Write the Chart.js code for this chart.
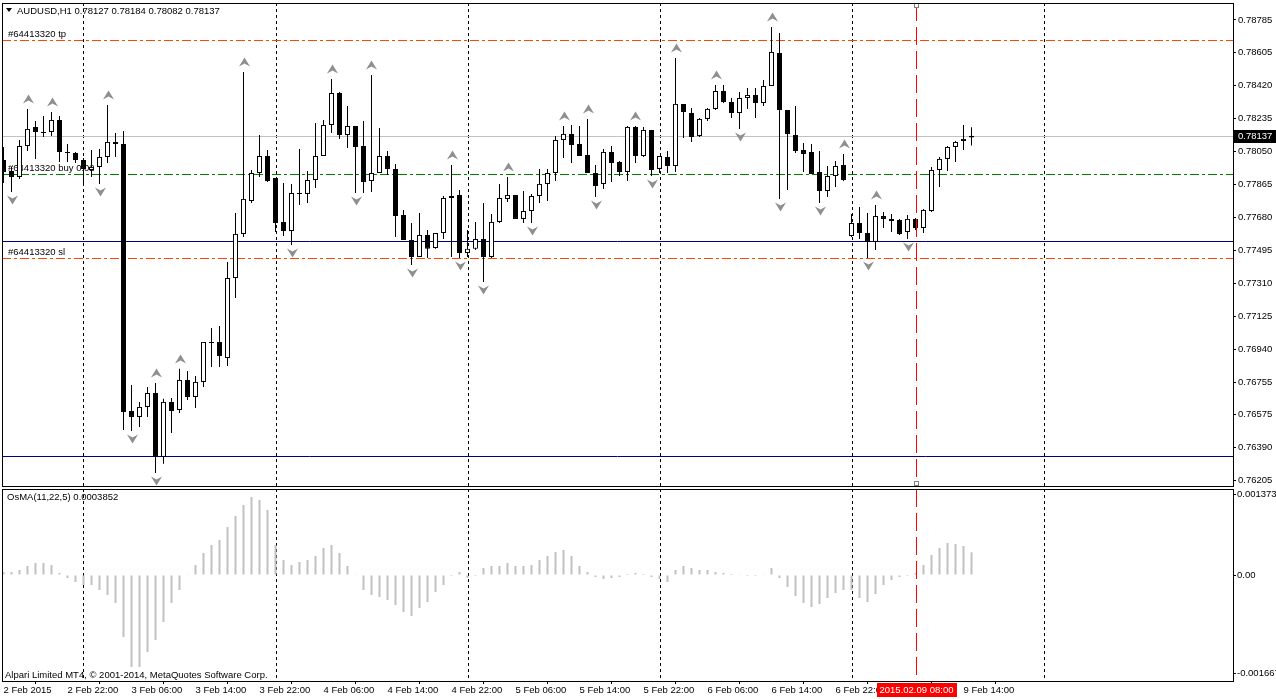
<!DOCTYPE html>
<html>
<head>
<meta charset="utf-8">
<title>AUDUSD,H1</title>
<script src="https://cdn.jsdelivr.net/npm/chart.js@4.4.0/dist/chart.umd.min.js"></script>
<style>
    body { margin: 0; background: #fff; width: 1276px; height: 699px; overflow: hidden; position: relative; }
    canvas { position: absolute; left: 0; }
    #main-chart { top: 0; }
    #osma-chart { top: 487px; }
</style>
</head>
<body>
<canvas id="main-chart" width="1276" height="487" style="width:1276px;height:487px"></canvas>
<canvas id="osma-chart" width="1276" height="212" style="width:1276px;height:212px"></canvas>
<script>
// AUDUSD H1 candles, 2 Feb 14:00 .. 9 Feb 15:00
const opens = [0.78001,0.77939,0.77906,0.78079,0.78186,0.78158,0.78158,0.78225,0.78046,0.78040,
    0.78001,0.77945,0.77962,0.78018,0.78102,0.78091,0.76595,0.76562,0.76618,0.76696,
    0.76338,0.76646,0.76601,0.76769,0.76674,0.76758,0.76982,0.76982,0.76892,0.77340,
    0.77587,0.77771,0.77928,0.78023,0.77900,0.77654,0.77603,0.77816,0.77811,0.77889,
    0.78023,0.78197,0.78376,0.78141,0.78191,0.78079,0.77883,0.77928,0.78023,0.77951,
    0.77693,0.77553,0.77458,0.77581,0.77508,0.77592,0.77788,0.77805,0.77480,0.77503,
    0.77559,0.77458,0.77654,0.77783,0.77805,0.77671,0.77715,0.77799,0.77867,0.77928,
    0.78113,0.78147,0.78091,0.78029,0.77928,0.77867,0.78046,0.77990,0.77934,0.78186,
    0.78023,0.78169,0.77951,0.78018,0.77967,0.78315,0.78264,0.78135,0.78231,0.78287,
    0.78387,0.78326,0.78264,0.78348,0.78365,0.78320,0.78415,0.78600,0.78281,0.78141,
    0.78057,0.78046,0.77934,0.77827,0.77911,0.77973,0.77575,0.77648,0.77592,0.77542,
    0.77687,0.77671,0.77665,0.77598,0.77671,0.77620,0.77715,0.77945,0.78007,0.78074,
    0.78107,0.78127];
const highs = [0.78074,0.77962,0.78113,0.78287,0.78219,0.78247,0.78270,0.78247,0.78091,0.78046,
    0.78012,0.78057,0.78063,0.78309,0.78152,0.78163,0.76741,0.76646,0.76730,0.76752,
    0.76663,0.76668,0.76831,0.76819,0.76791,0.76982,0.77060,0.77071,0.77430,0.77704,
    0.78494,0.77945,0.78141,0.78057,0.77900,0.77872,0.77867,0.78063,0.77939,0.78208,
    0.78225,0.78455,0.78382,0.78303,0.78191,0.78219,0.78477,0.78180,0.78051,0.77979,
    0.77721,0.77648,0.77704,0.77609,0.77592,0.77799,0.77973,0.77833,0.77609,0.77654,
    0.77760,0.77699,0.77867,0.77906,0.77805,0.77827,0.77811,0.77951,0.77951,0.78135,
    0.78191,0.78197,0.78191,0.78231,0.77973,0.78063,0.78079,0.77995,0.78191,0.78191,
    0.78186,0.78169,0.78023,0.78051,0.78572,0.78315,0.78292,0.78236,0.78292,0.78421,
    0.78421,0.78348,0.78382,0.78404,0.78404,0.78449,0.78746,0.78712,0.78281,0.78303,
    0.78096,0.78091,0.78051,0.77967,0.77995,0.78035,0.77699,0.77738,0.77704,0.77749,
    0.77710,0.77699,0.77671,0.77693,0.77676,0.77727,0.77962,0.78018,0.78079,0.78107,
    0.78197,0.78184];
const lows = [0.77872,0.77822,0.77895,0.78051,0.78007,0.78130,0.78135,0.77990,0.77990,0.77984,
    0.77872,0.77906,0.77867,0.77984,0.78018,0.76489,0.76483,0.76506,0.76562,0.76248,
    0.76299,0.76472,0.76584,0.76657,0.76612,0.76730,0.76842,0.76842,0.76847,0.77228,
    0.77570,0.77760,0.77906,0.77878,0.77598,0.77575,0.77525,0.77749,0.77760,0.77844,
    0.78023,0.78152,0.78119,0.78068,0.77816,0.77816,0.77822,0.77928,0.77917,0.77570,
    0.77553,0.77413,0.77458,0.77452,0.77503,0.77559,0.77458,0.77452,0.77458,0.77497,
    0.77318,0.77452,0.77648,0.77766,0.77671,0.77648,0.77648,0.77760,0.77771,0.77883,
    0.78012,0.77984,0.78023,0.77928,0.77794,0.77839,0.77878,0.77911,0.77883,0.77984,
    0.78018,0.77911,0.77928,0.77928,0.77934,0.78124,0.78102,0.78130,0.78219,0.78281,
    0.78320,0.78236,0.78175,0.78287,0.78236,0.78303,0.78415,0.77783,0.77833,0.78040,
    0.77934,0.77923,0.77760,0.77794,0.77850,0.77883,0.77570,0.77559,0.77452,0.77497,
    0.77620,0.77598,0.77581,0.77559,0.77609,0.77592,0.77710,0.77850,0.77939,0.77990,
    0.78057,0.78082];
const closes = [0.77934,0.77906,0.78079,0.78175,0.78158,0.78152,0.78225,0.78046,0.78040,0.78001,
    0.77951,0.77962,0.78018,0.78102,0.78091,0.76590,0.76562,0.76618,0.76696,0.76338,
    0.76646,0.76595,0.76769,0.76674,0.76758,0.76982,0.76976,0.76903,0.77340,0.77587,
    0.77783,0.77928,0.78023,0.77883,0.77648,0.77603,0.77816,0.77811,0.77889,0.78023,
    0.78197,0.78376,0.78141,0.78191,0.78074,0.77878,0.77928,0.78023,0.77951,0.77687,
    0.77553,0.77458,0.77581,0.77503,0.77592,0.77788,0.77799,0.77480,0.77503,0.77559,
    0.77458,0.77654,0.77788,0.77805,0.77671,0.77715,0.77799,0.77867,0.77928,0.78113,
    0.78147,0.78085,0.78023,0.77928,0.77855,0.78046,0.77984,0.77934,0.78186,0.78023,
    0.78169,0.77945,0.78023,0.77967,0.78315,0.78270,0.78130,0.78231,0.78287,0.78387,
    0.78326,0.78264,0.78348,0.78365,0.78320,0.78415,0.78606,0.78281,0.78147,0.78051,
    0.78035,0.77923,0.77827,0.77911,0.77967,0.77889,0.77648,0.77592,0.77542,0.77687,
    0.77671,0.77659,0.77587,0.77671,0.77620,0.77721,0.77945,0.78007,0.78074,0.78102,
    0.78119,0.78137];

// OsMA(11,22,5) histogram, one value per candle
const osmaValues = [0.000051,0.000051,0.000085,0.000153,0.000204,0.000204,0.00017,0.000034,-0.000051,-0.000119,
    -0.00017,-0.00017,-0.000255,-0.00034,-0.000476,-0.001054,-0.001565,-0.001565,-0.00131,-0.001105,
    -0.0008,-0.000476,-0.000255,0.000005,0.00017,0.000374,0.00051,0.000595,0.000816,0.001003,
    0.00119,0.001327,0.001276,0.001105,0.00051,0.000255,0.00017,0.000221,0.000255,0.000323,
    0.000459,0.00051,0.000374,0.000153,0.000005,-0.000255,-0.00034,-0.000374,-0.000425,-0.00051,
    -0.000629,-0.000697,-0.000561,-0.000459,-0.000289,-0.00017,-0.000017,0.000051,-0.000051,-0.000017,
    0.000119,0.000153,0.000153,0.000204,0.000153,0.000153,0.00017,0.000255,0.000323,0.000391,
    0.000425,0.000323,0.000153,0.000051,-0.000034,-0.000068,-0.000051,-0.000034,0.000017,0.000034,
    0.000017,-0.000034,-0.000068,-0.000119,0.000085,0.000153,0.000119,0.000085,0.000085,0.000051,
    0.000034,0.000017,0.000005,-0.000017,-0.000017,0.000005,0.000119,-0.000051,-0.000204,-0.000357,
    -0.000476,-0.000544,-0.000493,-0.000391,-0.000306,-0.000255,-0.000255,-0.000391,-0.000459,-0.000323,
    -0.00017,-0.000085,-0.000034,-0.000017,0.000034,0.00017,0.00034,0.000459,0.000544,0.000527,
    0.000493,0.0003852];

// time axis (bar index -> label)
const timeTickIdx = [0, 8, 16, 24, 32, 40, 48, 56, 64, 72, 80, 88, 96, 104, 112, 120];
const timeTickLabels = ['2 Feb 2015', '2 Feb 22:00', '3 Feb 06:00', '3 Feb 14:00', '3 Feb 22:00',
    '4 Feb 06:00', '4 Feb 14:00', '4 Feb 22:00', '5 Feb 06:00', '5 Feb 14:00', '5 Feb 22:00',
    '6 Feb 06:00', '6 Feb 14:00', '6 Feb 22:00', '9 Feb 06:00', '9 Feb 14:00'];
const daySeparatorIdx = [10, 34, 58, 82, 106, 130];

const priceTicks = [0.78785, 0.78605, 0.78420, 0.78235, 0.78050, 0.77865, 0.77680, 0.77495,
    0.77310, 0.77125, 0.76940, 0.76755, 0.76575, 0.76390, 0.76205];
const osmaTicks = [0.001373, 0, -0.001667];
const osmaTickLabels = ['0.001373', '0.00', '-0.001667'];

// bill williams fractals (bar indices)
const fractalUpIdx = [3, 6, 13, 19, 22, 30, 41, 46, 56, 63, 70, 73, 79, 84, 89, 96, 105, 109];
const fractalDownIdx = [1, 12, 16, 19, 36, 44, 51, 57, 60, 66, 74, 81, 92, 97, 102, 108, 113];

// order levels and lines
const tpLevel = 0.78673;
const buyLevel = 0.77923;
const slLevel = 0.77452;
const navyLevels = [0.77547, 0.76343];
const bidPrice = 0.78137;
const markerIdx = 114;
const markerLabel = '2015.02.09 08:00';

const FONT = 'Liberation Sans, Arial, sans-serif';
const X_MIN = -0.1875;
const X_MAX = 153.6875;

Chart.defaults.font.family = FONT;
Chart.defaults.font.size = 9.5;
Chart.defaults.color = '#000';

function vLine(ctx, px, top, bottom, color, dash) {
    ctx.save();
    ctx.strokeStyle = color;
    ctx.lineWidth = 1;
    ctx.setLineDash(dash);
    ctx.beginPath();
    ctx.moveTo(px, top);
    ctx.lineTo(px, bottom);
    ctx.stroke();
    ctx.restore();
}

function hLine(ctx, area, py, color, dash) {
    ctx.save();
    ctx.strokeStyle = color;
    ctx.lineWidth = 1;
    ctx.setLineDash(dash);
    ctx.beginPath();
    ctx.moveTo(area.left, py);
    ctx.lineTo(area.right, py);
    ctx.stroke();
    ctx.restore();
}

function snap(v) {
    return Math.round(v) + 0.5;
}

// no extra room for the first/last tick labels, MT4 keeps the panel edges fixed
function noPadding(s) {
    s.paddingTop = 0;
    s.paddingBottom = 0;
    s.paddingLeft = 0;
    s.paddingRight = 0;
}

function drawArrow(ctx, cx, cy, up) {
    const d = up ? 1 : -1;
    ctx.beginPath();
    ctx.moveTo(cx, cy - 4.5 * d);
    ctx.lineTo(cx + 5.5, cy + 4.5 * d);
    ctx.lineTo(cx, cy + 1.5 * d);
    ctx.lineTo(cx - 5.5, cy + 4.5 * d);
    ctx.closePath();
    ctx.fill();
}

function drawFrame(ctx, a) {
    ctx.save();
    ctx.strokeStyle = '#000';
    ctx.lineWidth = 1;
    ctx.strokeRect(a.left + 0.5, a.top + 0.5, a.right - a.left, a.bottom - a.top);
    ctx.restore();
}

const mainPlugin = {
    id: 'mt4Main',
    beforeDatasetsDraw(chart) {
        const { ctx, chartArea: a, scales: { x, y } } = chart;
        ctx.save();
        ctx.beginPath();
        ctx.rect(a.left, a.top, a.right - a.left, a.bottom - a.top);
        ctx.clip();

        daySeparatorIdx.forEach(i => vLine(ctx, snap(x.getPixelForValue(i)), a.top, a.bottom, '#000', [3, 3]));

        hLine(ctx, a, snap(y.getPixelForValue(bidPrice)), '#c0c0c0', []);
        navyLevels.forEach(v => hLine(ctx, a, snap(y.getPixelForValue(v)), '#000080', []));
        hLine(ctx, a, snap(y.getPixelForValue(tpLevel)), '#ff4500', [9, 3, 3, 3]);
        hLine(ctx, a, snap(y.getPixelForValue(slLevel)), '#ff4500', [9, 3, 3, 3]);
        hLine(ctx, a, snap(y.getPixelForValue(buyLevel)), '#008000', [9, 3, 3, 3]);

        ctx.fillStyle = '#000';
        ctx.font = '9.5px ' + FONT;
        ctx.textBaseline = 'alphabetic';
        ctx.fillText('#64413320 tp', 8, Math.round(y.getPixelForValue(tpLevel)) - 3);
        ctx.fillText('#64413320 buy 0.02', 8, Math.round(y.getPixelForValue(buyLevel)) - 3);
        ctx.fillText('#64413320 sl', 8, Math.round(y.getPixelForValue(slLevel)) - 3);
        ctx.restore();
    },
    afterDatasetsDraw(chart) {
        const { ctx, chartArea: a, scales: { x, y } } = chart;
        ctx.save();
        ctx.beginPath();
        ctx.rect(a.left, a.top, a.right - a.left, a.bottom - a.top);
        ctx.clip();

        // fractals
        ctx.fillStyle = '#8f8f8f';
        fractalUpIdx.forEach(i => drawArrow(ctx, snap(x.getPixelForValue(i)), Math.round(y.getPixelForValue(highs[i])) - 10, true));
        fractalDownIdx.forEach(i => drawArrow(ctx, snap(x.getPixelForValue(i)), Math.round(y.getPixelForValue(lows[i])) + 8, false));

        // selected vertical line
        const mx = snap(x.getPixelForValue(markerIdx));
        vLine(ctx, mx, a.top, a.bottom, '#ff0000', [18, 6]);
        ctx.restore();

        ctx.save();
        ctx.fillStyle = '#fff';
        ctx.strokeStyle = '#808080';
        ctx.fillRect(mx - 2.5, a.top, 5, 5);
        ctx.strokeRect(mx - 2, a.top + 0.5, 4, 4);
        ctx.fillRect(mx - 2.5, a.bottom - 5, 5, 5);
        ctx.strokeRect(mx - 2, a.bottom - 4.5, 4, 4);
        ctx.restore();
    },
    afterDraw(chart) {
        const { ctx, chartArea: a, scales: { y } } = chart;
        drawFrame(ctx, a);

        ctx.save();
        // header
        ctx.fillStyle = '#000';
        ctx.beginPath();
        ctx.moveTo(6, 8);
        ctx.lineTo(12, 8);
        ctx.lineTo(9, 12);
        ctx.closePath();
        ctx.fill();
        ctx.font = '9.5px ' + FONT;
        ctx.fillText('AUDUSD,H1 0.78127 0.78184 0.78082 0.78137', 17, 14);

        // bid label on the price axis
        const by = Math.round(y.getPixelForValue(bidPrice));
        ctx.fillStyle = '#000';
        ctx.fillRect(a.right + 1, by - 6, 1276 - a.right - 1, 13);
        ctx.fillStyle = '#fff';
        ctx.textBaseline = 'middle';
        ctx.fillText(bidPrice.toFixed(5), a.right + 5, by + 0.5);
        ctx.restore();
    }
};

const osmaPlugin = {
    id: 'mt4Osma',
    beforeDatasetsDraw(chart) {
        const { ctx, chartArea: a, scales: { x } } = chart;
        ctx.save();
        ctx.beginPath();
        ctx.rect(a.left, a.top, a.right - a.left, a.bottom - a.top);
        ctx.clip();
        daySeparatorIdx.forEach(i => vLine(ctx, snap(x.getPixelForValue(i)), a.top, a.bottom, '#000', [3, 3]));
        ctx.restore();
    },
    afterDatasetsDraw(chart) {
        const { ctx, chartArea: a, scales: { x } } = chart;
        ctx.save();
        ctx.beginPath();
        ctx.rect(a.left, a.top, a.right - a.left, a.bottom - a.top);
        ctx.clip();
        vLine(ctx, snap(x.getPixelForValue(markerIdx)), a.top, a.bottom, '#ff0000', [18, 6]);

        ctx.fillStyle = '#000';
        ctx.font = '9.5px ' + FONT;
        ctx.fillText('OsMA(11,22,5) 0.0003852', 7, a.top + 11);
        ctx.fillText('Alpari Limited MT4, \u00a9 2001-2014, MetaQuotes Software Corp.', 5, a.bottom - 3);
        ctx.restore();
    },
    afterDraw(chart) {
        const { ctx, chartArea: a, scales: { x } } = chart;
        drawFrame(ctx, a);

        // time label of the selected line
        const mx = snap(x.getPixelForValue(markerIdx));
        ctx.save();
        ctx.fillStyle = '#ff0000';
        ctx.fillRect(Math.round(mx) - 40, a.bottom + 2, 80, 14);
        ctx.fillStyle = '#fff';
        ctx.font = '9.5px ' + FONT;
        ctx.textAlign = 'center';
        ctx.textBaseline = 'middle';
        ctx.fillText(markerLabel, mx, a.bottom + 9.5);
        ctx.restore();
    }
};

const barIdx = opens.map((_, i) => i);

const mainChart = new Chart(document.getElementById('main-chart'), {
    type: 'bar',
    data: {
        datasets: [
            {
                label: 'wick',
                data: barIdx.map(i => ({ x: i, y: [lows[i], highs[i]] })),
                backgroundColor: '#000',
                borderWidth: 0,
                barThickness: 1,
                grouped: false,
                inflateAmount: 0,
                order: 2
            },
            {
                label: 'body',
                data: barIdx.map(i => ({ x: i, y: [opens[i], closes[i]] })),
                backgroundColor: barIdx.map(i => closes[i] >= opens[i] ? '#ffffff' : '#000000'),
                borderColor: '#000',
                borderWidth: 1,
                borderSkipped: false,
                barThickness: 5,
                minBarLength: 1,
                grouped: false,
                inflateAmount: 0,
                order: 1
            }
        ]
    },
    options: {
        responsive: false,
        animation: false,
        devicePixelRatio: 1,
        layout: { padding: { left: 2, top: 3, right: 0, bottom: 1 } },
        plugins: { legend: { display: false }, tooltip: { enabled: false } },
        scales: {
            x: {
                type: 'linear',
                min: X_MIN,
                max: X_MAX,
                offset: false,
                display: false
            },
            y: {
                position: 'right',
                min: 0.76175,
                max: 0.78880,
                afterBuildTicks: s => { s.ticks = priceTicks.map(v => ({ value: v })); },
                afterFit: s => { s.width = 43; noPadding(s); },
                ticks: {
                    autoSkip: false,
                    padding: 2,
                    color: '#000',
                    callback: v => Number(v).toFixed(5)
                },
                grid: { drawOnChartArea: false, drawTicks: true, tickLength: 3, color: '#000' },
                border: { display: true, color: '#000' }
            }
        }
    },
    plugins: [mainPlugin]
});

const osmaChart = new Chart(document.getElementById('osma-chart'), {
    type: 'bar',
    data: {
        datasets: [{
            label: 'OsMA',
            data: barIdx.map(i => ({ x: i, y: osmaValues[i] })),
            backgroundColor: '#c0c0c0',
            borderWidth: 0,
            barThickness: 2,
            inflateAmount: 0
        }]
    },
    options: {
        responsive: false,
        animation: false,
        devicePixelRatio: 1,
        layout: { padding: { left: 2, top: 2, right: 0, bottom: 0 } },
        plugins: { legend: { display: false }, tooltip: { enabled: false } },
        scales: {
            x: {
                type: 'linear',
                min: X_MIN,
                max: X_MAX,
                offset: false,
                afterBuildTicks: s => { s.ticks = timeTickIdx.map(v => ({ value: v })); },
                afterFit: s => { s.height = 18; noPadding(s); },
                ticks: {
                    autoSkip: false,
                    maxRotation: 0,
                    align: 'start',
                    padding: 1,
                    color: '#000',
                    callback: (v, i) => timeTickLabels[i]
                },
                grid: { drawOnChartArea: false, drawTicks: true, tickLength: 3, color: '#000' },
                border: { display: true, color: '#000' }
            },
            y: {
                position: 'right',
                min: -0.001803,
                max: 0.001463,
                afterBuildTicks: s => { s.ticks = osmaTicks.map(v => ({ value: v })); },
                afterFit: s => { s.width = 43; noPadding(s); },
                ticks: {
                    autoSkip: false,
                    padding: 1,
                    color: '#000',
                    callback: (v, i) => osmaTickLabels[i]
                },
                grid: { drawOnChartArea: false, drawTicks: true, tickLength: 3, color: '#000' },
                border: { display: true, color: '#000' }
            }
        }
    },
    plugins: [osmaPlugin]
});
</script>
</body>
</html>
